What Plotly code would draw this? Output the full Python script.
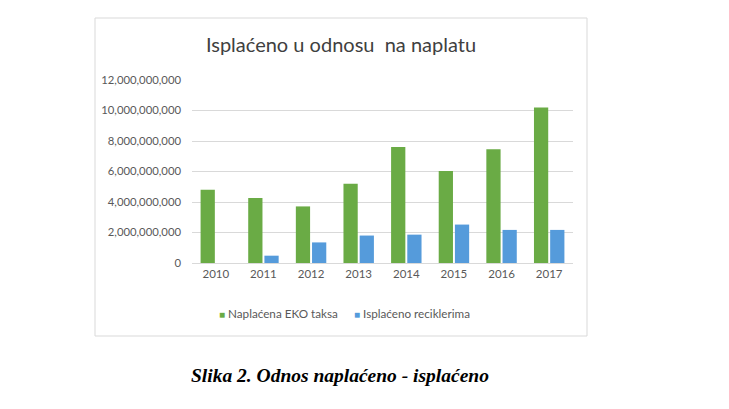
import plotly.graph_objects as go

years = ["2010", "2011", "2012", "2013", "2014", "2015", "2016", "2017"]
naplacena = [4.80e9, 4.26e9, 3.71e9, 5.19e9, 7.61e9, 6.03e9, 7.46e9, 10.20e9]
isplaceno = [0, 0.48e9, 1.35e9, 1.80e9, 1.86e9, 2.52e9, 2.17e9, 2.17e9]
y_ticks = [0, 2e9, 4e9, 6e9, 8e9, 10e9, 12e9]
series_names = ["Naplaćena EKO taksa", "Isplaćeno reciklerima"]
colors = ["#6aab45", "#559bdb"]

W, H = 729, 409
# plot area in pixels
L, R, T, B = 192, 573, 80, 263


def px(x):
    return (x - L) / (R - L)


def py(y):
    return (B - y) / (B - T)


fig = go.Figure()
for name, vals, col in zip(series_names, [naplacena, isplaceno], colors):
    fig.add_trace(go.Bar(
        x=years, y=vals, name=name,
        marker=dict(color=col, line=dict(width=0)),
        showlegend=False,
    ))

grey = "#595959"

# legend drawn as text, small squares like the Excel original
legend_notes = []
for name, col, x0 in zip(series_names, colors, [217, 352]):
    legend_notes.append(dict(
        text=f"<span style='color:{col};font-size:10px'>■</span> {name}",
        xref="paper", yref="paper", x=px(x0), y=py(313),
        xanchor="left", yanchor="middle", showarrow=False,
        font=dict(family="Lato, Open Sans, sans-serif", size=11.7, color=grey),
    ))

fig.update_layout(
    width=W, height=H,
    margin=dict(l=L, r=W - R, t=T, b=H - B, pad=0),
    paper_bgcolor="white", plot_bgcolor="white",
    barmode="group", bargap=0.32, bargroupgap=0.12,
    font=dict(family="Lato, Open Sans, sans-serif", color=grey, size=11),
    title=dict(
        text="Isplaćeno u odnosu  na naplatu",
        font=dict(family="Lato, Open Sans, sans-serif", size=20, color="#404040"),
        x=px(341), xref="paper", xanchor="center",
        y=1 - 45 / H, yref="container", yanchor="middle",
    ),
    xaxis=dict(showgrid=False, showline=True, linecolor="#d9d9d9", linewidth=1,
               ticks="", tickfont=dict(size=11.5, color=grey)),
    yaxis=dict(range=[0, 12e9], tickvals=y_ticks, tickformat=",d",
               showgrid=True, gridcolor="#d9d9d9", gridwidth=1,
               zeroline=False, showline=False, ticks="",
               ticklabelstandoff=10,
               tickfont=dict(size=11.3, color=grey)),
    showlegend=False,
    shapes=[dict(type="rect", xref="paper", yref="paper",
                 x0=px(95), x1=px(587), y0=py(336), y1=py(18),
                 line=dict(color="#d9d9d9", width=1), layer="below")],
    annotations=legend_notes + [dict(
        text="<b><i>Slika 2. Odnos naplaćeno - isplaćeno</i></b>",
        xref="paper", yref="paper", x=px(340), y=py(375),
        xanchor="center", yanchor="middle", showarrow=False,
        font=dict(family="Liberation Serif, Times New Roman, serif", size=19.5, color="black"),
    )],
)

fig.write_html("out.html", config={"displayModeBar": False},
               post_script="document.body.style.margin='0';")
